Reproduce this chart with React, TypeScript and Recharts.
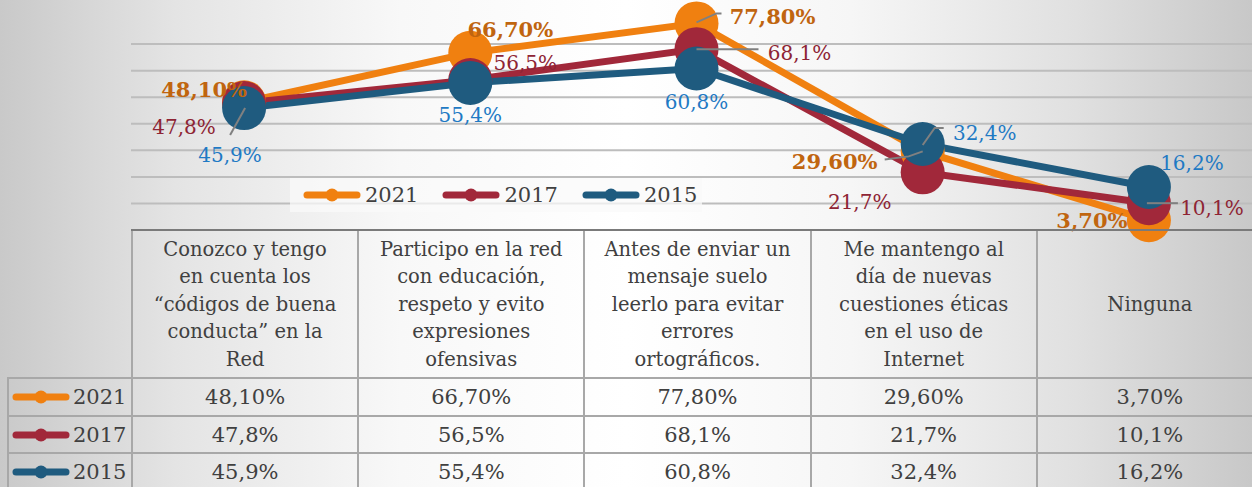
import React from 'react';
import { LineChart, Line, XAxis, YAxis, CartesianGrid, Legend, LabelList } from 'recharts';

// chart data
const categories = [
  'Conozco y tengo\nen cuenta los\n“códigos de buena\nconducta” en la\nRed',
  'Participo en la red\ncon educación,\nrespeto y evito\nexpresiones\nofensivas',
  'Antes de enviar un\nmensaje suelo\nleerlo para evitar\nerrores\nortográficos.',
  'Me mantengo al\ndía de nuevas\ncuestiones éticas\nen el uso de\nInternet',
  'Ninguna',
];
const years = ['2021', '2017', '2015'];
const values2021 = [48.1, 66.7, 77.8, 29.6, 3.7];
const values2017 = [47.8, 56.5, 68.1, 21.7, 10.1];
const values2015 = [45.9, 55.4, 60.8, 32.4, 16.2];
const yTicks = [0, 10, 20, 30, 40, 50, 60, 70, 80, 90];

const data = categories.map((name, i) => ({
  name,
  y2021: values2021[i],
  y2017: values2017[i],
  y2015: values2015[i],
}));

const FONT = '"DejaVu Serif", serif';
const TEXT = '#404040';

// layout
const PLOT_LEFT = 131;
const PLOT_RIGHT = 1262;
const COL_W = (PLOT_RIGHT - PLOT_LEFT) / categories.length;
const TABLE_TOP = 230;
const HEADER_H = 148;
const ROW_H = 37.5;
const KEY_LEFT = 7;
const CHART_TOP = -9;

type SeriesStyle = {
  key: string;
  year: string;
  values: number[];
  color: string;
  labelColor: string;
  bold: boolean;
  decimals: number;
  offsets: number[][];
  leaders: (number[][] | null)[];
};

const series: SeriesStyle[] = [
  {
    key: 'y2021', year: years[0], values: values2021,
    color: '#F08010', labelColor: '#C0650F', bold: true, decimals: 2,
    offsets: [[-40, -13], [40, -23], [76, -7], [-88, 10], [-57, 0]],
    leaders: [null, null, [[0, -1], [20, -10], [25, -10]], [[0, 0], [-14, 5], [-38, 8]], null],
  },
  {
    key: 'y2017', year: years[1], values: values2017,
    color: '#A1283A', labelColor: '#8E2434', bold: false, decimals: 1,
    offsets: [[-60, 24], [55, -17], [103, 4], [-63, 30], [63, 5]],
    leaders: [null, null, [[0, 0], [62, 0]], null, [[-2, 0], [29, 0]]],
  },
  {
    key: 'y2015', year: years[2], values: values2015,
    color: '#1F5B7F', labelColor: '#1F7AC4', bold: false, decimals: 1,
    offsets: [[-14, 47], [0, 32], [0, 33], [62, -11], [43, -24]],
    leaders: [[[1, 0], [-14, 27]], null, null, [[0, 1], [12, -16], [21, -16]], null],
  },
];

const fmt = (v: number, d: number) => v.toFixed(d).replace('.', ',') + '%';

const makeLabel = (s: SeriesStyle) => (props: any) => {
  const { x, y, value, index } = props;
  const [dx, dy] = s.offsets[index];
  const lead = s.leaders[index];
  return (
    <g>
      {lead && (
        <polyline
          points={lead.map(([a, b]) => `${x + a},${y + b}`).join(' ')}
          fill="none"
          stroke="#808080"
          strokeWidth={2}
        />
      )}
      <text
        x={x + dx}
        y={y + dy}
        textAnchor="middle"
        dominantBaseline="central"
        fill={s.labelColor}
        fontFamily={FONT}
        fontSize={s.bold ? 21 : 20}
        fontWeight={s.bold ? 'bold' : 'normal'}
      >
        {fmt(value, s.decimals)}
      </text>
    </g>
  );
};

const KeyIcon = ({ color }: { color: string }) => (
  <svg width={58} height={14} style={{ display: 'block' }}>
    <line x1={4} y1={7} x2={54} y2={7} stroke={color} strokeWidth={7} strokeLinecap="round" />
    <circle cx={29} cy={7} r={6.5} fill={color} />
  </svg>
);

const ChartLegend = () => (
  <div
    style={{
      display: 'flex',
      alignItems: 'center',
      height: 34,
      paddingLeft: 13,
      background: 'rgba(250,250,250,0.75)',
      fontFamily: FONT,
      fontSize: 21,
      color: TEXT,
    }}
  >
    {series.map((s) => (
      <div key={s.key} style={{ display: 'flex', alignItems: 'center', marginRight: 24 }}>
        <KeyIcon color={s.color} />
        <span style={{ marginLeft: 4 }}>{s.year}</span>
      </div>
    ))}
  </div>
);

const border = '2px solid #a8a8a8';

const DataTable = () => (
  <>
    <div
      style={{
        position: 'absolute', left: PLOT_LEFT, top: TABLE_TOP - 1, width: 1252 - PLOT_LEFT,
        height: 0, borderTop: '2px solid #7a7a7a',
      }}
    />
    {categories.map((c, i) => (
      <div
        key={c}
        style={{
          position: 'absolute', boxSizing: 'border-box',
          left: PLOT_LEFT + i * COL_W, top: TABLE_TOP + 1, width: COL_W, height: HEADER_H - 1,
          borderLeft: border, display: 'flex', alignItems: 'center', justifyContent: 'center',
          textAlign: 'center', whiteSpace: 'pre-line', fontSize: 19.5, lineHeight: '27.5px', color: TEXT,
        }}
      >
        {c}
      </div>
    ))}
    {series.map((s, r) => {
      const top = TABLE_TOP + HEADER_H + r * ROW_H;
      return (
        <React.Fragment key={s.key}>
          <div
            style={{
              position: 'absolute', left: KEY_LEFT, top: top - 1, width: 1252 - KEY_LEFT,
              height: 0, borderTop: border,
            }}
          />
          <div
            style={{
              position: 'absolute', boxSizing: 'border-box', left: KEY_LEFT, top: top + 1,
              width: PLOT_LEFT - KEY_LEFT, height: ROW_H - 1, borderLeft: border,
              display: 'flex', alignItems: 'center', paddingLeft: 3, fontSize: 21, color: TEXT,
            }}
          >
            <KeyIcon color={s.color} />
            <span style={{ marginLeft: 3 }}>{s.year}</span>
          </div>
          {s.values.map((v, i) => (
            <div
              key={i}
              style={{
                position: 'absolute', boxSizing: 'border-box', left: PLOT_LEFT + i * COL_W, top: top + 1,
                width: COL_W, height: ROW_H - 1, borderLeft: border,
                display: 'flex', alignItems: 'center', justifyContent: 'center',
                fontSize: 21, color: TEXT,
              }}
            >
              {fmt(v, s.decimals)}
            </div>
          ))}
        </React.Fragment>
      );
    })}
  </>
);

export default function App() {
  return (
    <div
      style={{
        position: 'absolute', left: 0, top: 0, width: 1252, height: 487, overflow: 'hidden',
        fontFamily: FONT,
        background:
          'linear-gradient(90deg, #c9c9c9 0%, #e4e4e4 14%, #f8f8f8 32%, #ffffff 50%, #f6f6f6 68%, #e0e0e0 86%, #c8c8c8 100%)',
      }}
    >
      <div style={{ position: 'absolute', left: 0, top: CHART_TOP }}>
        <LineChart
          width={1280}
          height={260}
          data={data}
          margin={{ top: 0, right: 1280 - PLOT_RIGHT, left: PLOT_LEFT, bottom: 260 - (TABLE_TOP - CHART_TOP) }}
        >
          <CartesianGrid vertical={false} stroke="#bdbdbd" strokeWidth={2} />
          <XAxis dataKey="name" hide scale="band" />
          <YAxis hide domain={[0, 90]} ticks={yTicks} />
          <Legend
            layout="horizontal"
            verticalAlign="middle"
            align="center"
            content={<ChartLegend />}
            wrapperStyle={{ position: 'absolute', left: 290, top: 178 - CHART_TOP, width: 412, height: 34 }}
          />
          {series.map((s) => (
            <Line
              key={s.key}
              dataKey={s.key}
              stroke={s.color}
              strokeWidth={7}
              dot={{ r: 22, fill: s.color, stroke: s.color, strokeWidth: 0 }}
              activeDot={false}
              isAnimationActive={false}
            />
          ))}
          {series.map((s) => (
            <Line
              key={s.key + '-labels'}
              dataKey={s.key}
              stroke="none"
              dot={false}
              activeDot={false}
              legendType="none"
              isAnimationActive={false}
            >
              <LabelList dataKey={s.key} content={makeLabel(s)} />
            </Line>
          ))}
        </LineChart>
      </div>
      <DataTable />
    </div>
  );
}
